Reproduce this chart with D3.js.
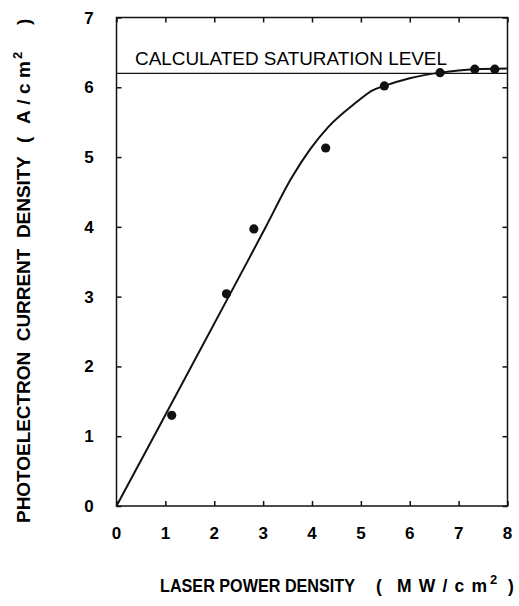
<!DOCTYPE html>
<html>
<head>
<meta charset="utf-8">
<script src="https://cdn.jsdelivr.net/npm/d3@7"></script>
<style>
  html, body { margin: 0; padding: 0; background: #fff; }
  svg { display: block; font-family: Arial, "Liberation Sans", Helvetica, sans-serif; }
  text { white-space: pre; }
</style>
</head>
<body>
<div id="chart"></div>
<script>
(function () {
  'use strict';

  // measured points (laser power density, current density)
  var pointX = [1.13, 2.25, 2.81, 4.28, 5.48, 6.62, 7.33, 7.74];
  var pointY = [1.30, 3.04, 3.97, 5.13, 6.02, 6.21, 6.26, 6.26];

  // fitted curve
  var curveX = [0, 0.86, 2.73, 3.04, 3.58, 3.96, 4.33, 4.88, 5.25, 5.48, 6.0, 6.62, 7.33, 8.0];
  var curveY = [0, 1.12, 3.57, 3.98, 4.70, 5.11, 5.43, 5.77, 5.96, 6.02, 6.13, 6.21, 6.26, 6.27];

  var saturationLevel = 6.2;
  var xTicks = [0, 1, 2, 3, 4, 5, 6, 7, 8];
  var yTicks = [0, 1, 2, 3, 4, 5, 6, 7];

  var W = 519, H = 606;
  var left = 116.5, right = 507.5, top = 17.5, bottom = 506;

  var x = d3.scaleLinear().domain([0, 8]).range([left, right]);
  var y = d3.scaleLinear().domain([0, 7]).range([bottom, top]);

  var svg = d3.select('#chart').append('svg')
    .attr('width', W).attr('height', H);

  /* frame */
  svg.append('rect')
    .attr('x', left).attr('y', top)
    .attr('width', right - left).attr('height', bottom - top)
    .attr('fill', 'none').attr('stroke', '#111').attr('stroke-width', 1.5);

  /* ticks on all four sides, pointing inward */
  var tk = 5;
  function noDomain(g) { g.select('.domain').remove(); }
  svg.append('g').attr('transform', 'translate(0,' + bottom + ')')
    .call(d3.axisTop(x).tickValues(xTicks).tickSize(tk).tickFormat('')).call(noDomain);
  svg.append('g').attr('transform', 'translate(0,' + top + ')')
    .call(d3.axisBottom(x).tickValues(xTicks).tickSize(tk).tickFormat('')).call(noDomain);
  svg.append('g').attr('transform', 'translate(' + left + ',0)')
    .call(d3.axisRight(y).tickValues(yTicks).tickSize(tk).tickFormat('')).call(noDomain);
  svg.append('g').attr('transform', 'translate(' + right + ',0)')
    .call(d3.axisLeft(y).tickValues(yTicks).tickSize(tk).tickFormat('')).call(noDomain);
  svg.selectAll('.tick line').attr('stroke', '#111').attr('stroke-width', 1.5);

  /* tick labels */
  svg.append('g').selectAll('text')
    .data(xTicks).join('text')
    .attr('x', function (d) { return x(d); })
    .attr('y', 539)
    .attr('text-anchor', 'middle')
    .attr('font-size', 17).attr('font-weight', 'bold')
    .text(function (d) { return d; });

  svg.append('g').selectAll('text')
    .data(yTicks).join('text')
    .attr('x', 89)
    .attr('y', function (d) { return y(d) + 6; })
    .attr('text-anchor', 'middle')
    .attr('font-size', 17).attr('font-weight', 'bold')
    .text(function (d) { return d; });

  /* saturation level */
  svg.append('line')
    .attr('x1', left).attr('x2', right)
    .attr('y1', y(saturationLevel)).attr('y2', y(saturationLevel))
    .attr('stroke', '#111').attr('stroke-width', 1.2);

  svg.append('text')
    .attr('x', 135).attr('y', 65)
    .attr('font-size', 19)
    .attr('textLength', 312).attr('lengthAdjust', 'spacingAndGlyphs')
    .text('CALCULATED SATURATION LEVEL');

  /* curve */
  var line = d3.line()
    .x(function (d) { return x(d[0]); })
    .y(function (d) { return y(d[1]); })
    .curve(d3.curveMonotoneX);

  svg.append('path')
    .datum(d3.zip(curveX, curveY))
    .attr('fill', 'none').attr('stroke', '#111').attr('stroke-width', 2)
    .attr('d', line);

  /* points */
  svg.append('g').selectAll('circle')
    .data(d3.zip(pointX, pointY)).join('circle')
    .attr('cx', function (d) { return x(d[0]); })
    .attr('cy', function (d) { return y(d[1]); })
    .attr('r', 4.6)
    .attr('fill', '#111');

  /* x axis title */
  var xt = svg.append('text')
    .attr('y', 592)
    .attr('font-size', 17.5).attr('font-weight', 'bold');
  xt.append('tspan').attr('x', 160)
    .attr('textLength', 195).attr('lengthAdjust', 'spacingAndGlyphs')
    .text('LASER POWER DENSITY');
  xt.append('tspan').attr('x', 376).text('(');
  xt.append('tspan').attr('x', 397)
    .attr('textLength', 90).attr('lengthAdjust', 'spacing')
    .text('MW/cm');
  xt.append('tspan').attr('x', 490).attr('dy', -8).attr('font-size', 13).text('2');
  xt.append('tspan').attr('x', 508).attr('dy', 8).text(')');

  /* y axis title (rotated; x runs upward) */
  var yt = svg.append('text')
    .attr('transform', 'translate(30,0) rotate(-90)')
    .attr('font-size', 19).attr('font-weight', 'bold');
  yt.append('tspan').attr('x', -523)
    .attr('textLength', 367).attr('lengthAdjust', 'spacingAndGlyphs')
    .text('PHOTOELECTRON  CURRENT  DENSITY');
  yt.append('tspan').attr('x', -143).text('(');
  yt.append('tspan').attr('x', -124)
    .attr('textLength', 63).attr('lengthAdjust', 'spacing')
    .text('A/cm');
  yt.append('tspan').attr('x', -59).attr('dy', -8).attr('font-size', 13).text('2');
  yt.append('tspan').attr('x', -25).attr('dy', 8).text(')');
})();
</script>
</body>
</html>
